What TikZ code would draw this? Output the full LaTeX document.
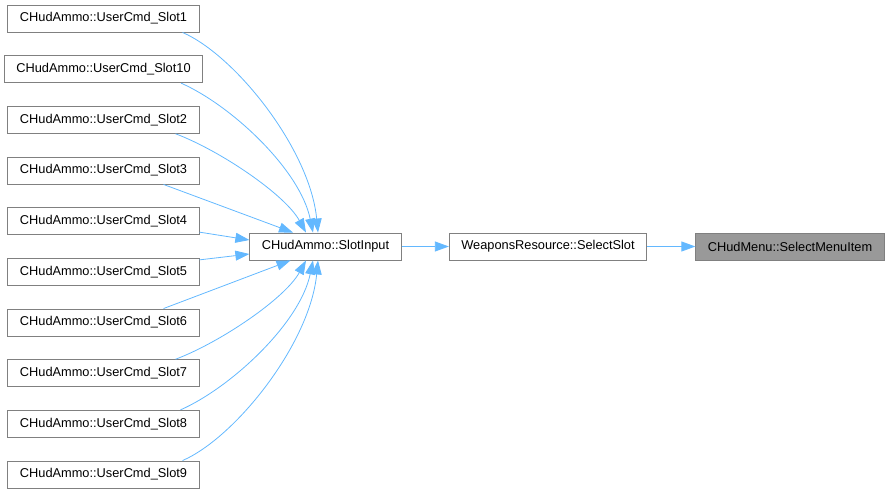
\documentclass[tikz,border=0pt]{standalone}
\usepackage{fontspec}
\setmainfont{Liberation Sans}
\usepackage{tikz}
\usetikzlibrary{arrows.meta, positioning}

\definecolor{edgeblue}{RGB}{99,184,255}
\definecolor{boxline}{RGB}{128,128,128}
\definecolor{curfill}{RGB}{153,153,153}

\tikzset{
    fn/.style={draw=boxline, fill=white, line width=0.9pt, minimum height=27pt,
        inner xsep=12pt, inner ysep=0pt, font=\fontsize{12.8}{14}\selectfont},
    cur/.style={fn, fill=curfill},
    call/.style={draw=edgeblue, line width=0.8pt,
        -{Triangle[length=14pt, width=10pt, fill=edgeblue]}},
}

\begin{document}
\begin{tikzpicture}[x=1pt, y=-1pt]
    \useasboundingbox (0,0) rectangle (889,493);

    % callers
    \node[fn] (s1)  at (103.5,18.5)  {CHudAmmo::UserCmd\_Slot1};
    \node[fn] (s10) at (103.5,69.2)  {CHudAmmo::UserCmd\_Slot10};
    \node[fn] (s2)  at (103.5,119.8) {CHudAmmo::UserCmd\_Slot2};
    \node[fn] (s3)  at (103.5,170.5) {CHudAmmo::UserCmd\_Slot3};
    \node[fn] (s4)  at (103.5,221.2) {CHudAmmo::UserCmd\_Slot4};
    \node[fn] (s5)  at (103.5,271.8) {CHudAmmo::UserCmd\_Slot5};
    \node[fn] (s6)  at (103.5,322.5) {CHudAmmo::UserCmd\_Slot6};
    \node[fn] (s7)  at (103.5,373.2) {CHudAmmo::UserCmd\_Slot7};
    \node[fn] (s8)  at (103.5,423.8) {CHudAmmo::UserCmd\_Slot8};
    \node[fn] (s9)  at (103.5,474.5) {CHudAmmo::UserCmd\_Slot9};

    \node[fn] (input) at (325.5,246.5) {CHudAmmo::SlotInput};
    \node[fn] (weap)  at (548,246.5)   {WeaponsResource::SelectSlot};
    \node[cur] (menu) at (790,246.5)   {CHudMenu::SelectMenuItem};

    % edges into SlotInput
    \draw[call] ([xshift=-17pt]s1.south east) .. controls +(53,23) and +(-8,-83) .. ([xshift=-7.5pt]input.north);
    \draw[call] ([xshift=-22pt]s10.south east) .. controls +(50,22) and +(-13,-63) .. ([xshift=-12.5pt]input.north);
    \draw[call] ([xshift=-24pt]s2.south east) .. controls +(45,17) and +(-21,-38) .. ([xshift=-19.5pt]input.north);
    \draw[call] ([xshift=-36pt]s3.south east) -- ([xshift=-32.5pt]input.north);
    \draw[call] ([yshift=3pt]s4.south east) -- ([yshift=6.5pt]input.west);
    \draw[call] ([yshift=-2pt]s5.north east) -- ([yshift=-7.5pt]input.west);
    \draw[call] ([xshift=-36pt]s6.north east) -- ([xshift=-35pt]input.south);
    \draw[call] ([xshift=-24pt]s7.north east) .. controls +(45,-17) and +(-21,38) .. ([xshift=-19.5pt]input.south);
    \draw[call] ([xshift=-19pt]s8.north east) .. controls +(50,-22) and +(-13,63) .. ([xshift=-12.5pt]input.south);
    \draw[call] ([xshift=-17pt]s9.north east) .. controls +(53,-23) and +(-8,83) .. ([xshift=-7.5pt]input.south);

    \draw[call] (input) -- (weap);
    \draw[call] (weap) -- (menu);
\end{tikzpicture}
\end{document}
